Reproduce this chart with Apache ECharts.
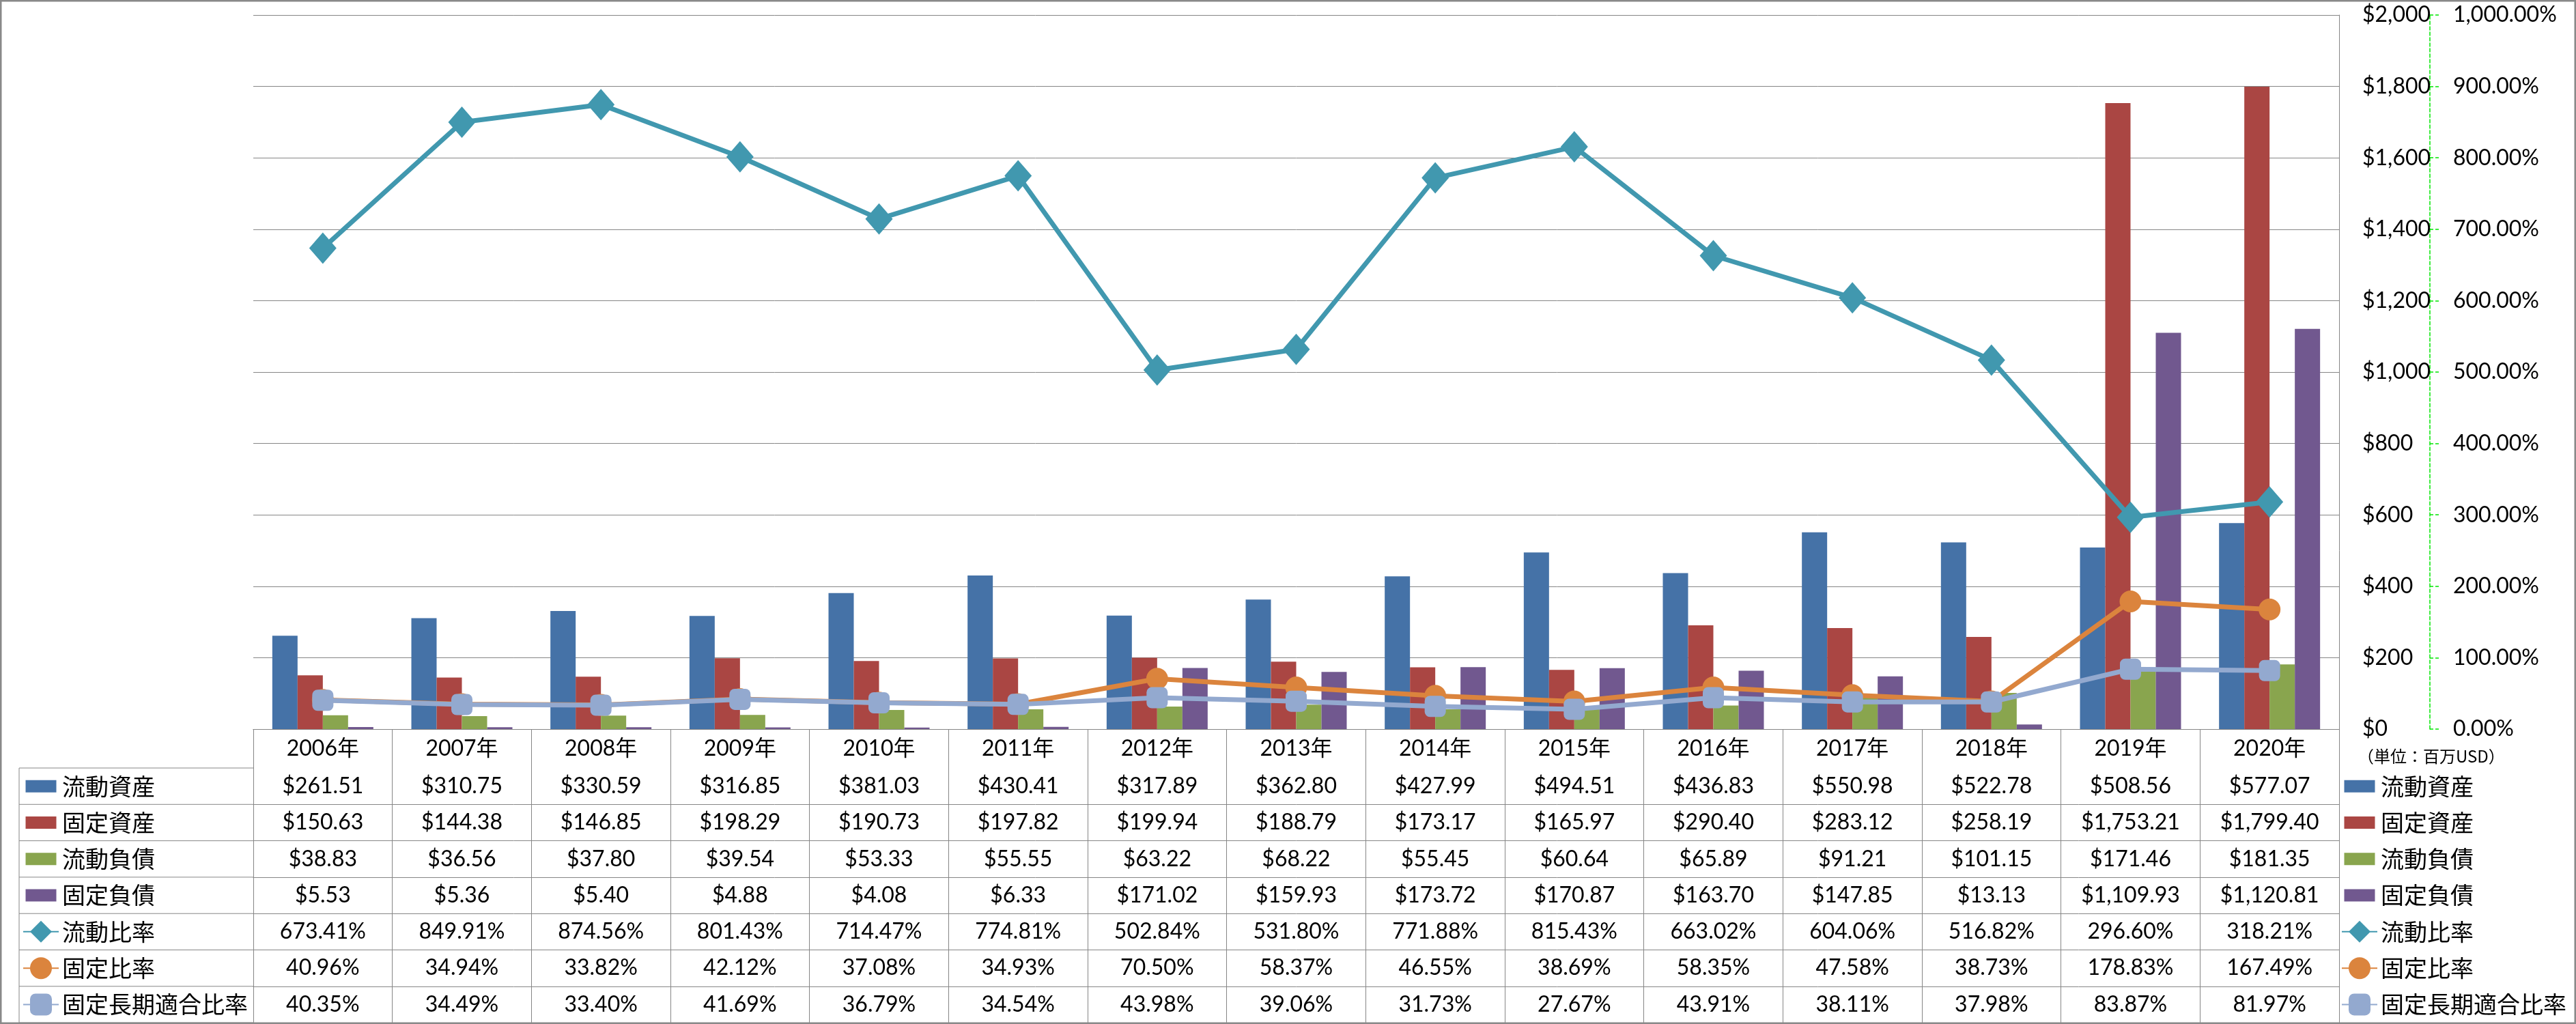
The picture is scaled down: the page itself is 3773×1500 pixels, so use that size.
<!DOCTYPE html>
<html><head><meta charset="utf-8">
<script src="https://cdn.jsdelivr.net/npm/echarts@6/dist/echarts.min.js"></script>
<style>html,body{margin:0;padding:0;background:#fff}#c{width:3773px;height:1500px}</style>
</head><body><div id="c"></div>
<script>
// ---------- DATA ----------
const years = ['2006年','2007年','2008年','2009年','2010年','2011年','2012年','2013年','2014年','2015年','2016年','2017年','2018年','2019年','2020年'];
const currentAssets = [261.51,310.75,330.59,316.85,381.03,430.41,317.89,362.80,427.99,494.51,436.83,550.98,522.78,508.56,577.07];
const fixedAssets = [150.63,144.38,146.85,198.29,190.73,197.82,199.94,188.79,173.17,165.97,290.40,283.12,258.19,1753.21,1799.40];
const currentLiabilities = [38.83,36.56,37.80,39.54,53.33,55.55,63.22,68.22,55.45,60.64,65.89,91.21,101.15,171.46,181.35];
const fixedLiabilities = [5.53,5.36,5.40,4.88,4.08,6.33,171.02,159.93,173.72,170.87,163.70,147.85,13.13,1109.93,1120.81];
const currentRatio = [673.41,849.91,874.56,801.43,714.47,774.81,502.84,531.80,771.88,815.43,663.02,604.06,516.82,296.60,318.21];
const fixedRatio = [40.96,34.94,33.82,42.12,37.08,34.93,70.50,58.37,46.55,38.69,58.35,47.58,38.73,178.83,167.49];
const fixedLongTermRatio = [40.35,34.49,33.40,41.69,36.79,34.54,43.98,39.06,31.73,27.67,43.91,38.11,37.98,83.87,81.97];
const seriesNames = ['流動資産','固定資産','流動負債','固定負債','流動比率','固定比率','固定長期適合比率'];
const moneyAxis = {min: 0, max: 2000, interval: 200};
const percentAxis = {min: 0, max: 1000, interval: 100};
const unitText = '（単位：百万USD）';

// ---------- LAYOUT / STYLE ----------
const W = 3773, H = 1500;
const plotLeft = 371, plotRight = 3426, plotTop = 22, plotBottom = 1068;
const headerH = 57, rowH = 53.3;
const tableLeft = 28;
const tableBottom = plotBottom + headerH + rowH * 7;
const gridColor = '#868686';
const numFont = 'Lato, "Noto Sans CJK JP", sans-serif';
const cjkFont = '"Noto Sans CJK JP", sans-serif';
const colors = ['#4572A7','#AA4643','#89A54E','#71588F','#4198AF','#DB843D','#93A9CF'];
const legendItemH = 40;

const fmtMoney = v => '$' + v.toLocaleString('en-US', {minimumFractionDigits: 2, maximumFractionDigits: 2});
const fmtPct = v => v.toLocaleString('en-US', {minimumFractionDigits: 2, maximumFractionDigits: 2}) + '%';

const rows = [
  {data: currentAssets, fmt: fmtMoney},
  {data: fixedAssets, fmt: fmtMoney},
  {data: currentLiabilities, fmt: fmtMoney},
  {data: fixedLiabilities, fmt: fmtMoney},
  {data: currentRatio, fmt: fmtPct},
  {data: fixedRatio, fmt: fmtPct},
  {data: fixedLongTermRatio, fmt: fmtPct}
];

const xAxes = [{
  type: 'category', data: years, gridIndex: 0, position: 'bottom', boundaryGap: true,
  axisLine: {show: true, lineStyle: {color: gridColor, width: 1}},
  axisTick: {show: true, interval: 0, length: tableBottom - plotBottom, lineStyle: {color: gridColor, width: 1}},
  axisLabel: {interval: 0, margin: headerH / 2, verticalAlign: 'middle', fontSize: 32, fontFamily: numFont, color: '#000'},
  splitLine: {show: false}
}];
rows.forEach((r, k) => {
  xAxes.push({
    type: 'category', data: years, gridIndex: 0, position: 'bottom', boundaryGap: true,
    offset: headerH + rowH * k,
    axisLine: {show: true, lineStyle: {color: gridColor, width: 1}},
    axisTick: {show: false},
    axisLabel: {interval: 0, margin: rowH / 2, verticalAlign: 'middle', fontSize: 32, fontFamily: numFont, color: '#000',
      formatter: (v, i) => r.fmt(r.data[i])},
    splitLine: {show: false}
  });
});

const barIcon = 'path://M0,0M52,40M3.5,11h45v18h-45z';
const legendData = seriesNames.map((n, i) => i < 4 ? {name: n, icon: barIcon} : {name: n});
const legendBase = {
  orient: 'vertical', top: plotBottom + headerH + rowH / 2 - legendItemH / 2,
  itemWidth: 52, itemHeight: legendItemH, itemGap: rowH - legendItemH,
  selectedMode: false, data: legendData, padding: 0,
  textStyle: {fontSize: 34, lineHeight: legendItemH, fontFamily: cjkFont, color: '#000'}
};

function barSeries(i, data) {
  return {name: seriesNames[i], type: 'bar', data: data, xAxisIndex: 0, yAxisIndex: 0,
    barWidth: 37, barGap: '0%', itemStyle: {color: colors[i]}, z: 2};
}
function lineSeries(i, data, symbol, size) {
  return {name: seriesNames[i], type: 'line', data: data, xAxisIndex: 0, yAxisIndex: 1,
    symbol: symbol, symbolSize: size, showSymbol: true,
    lineStyle: {color: colors[i], width: 7}, itemStyle: {color: colors[i]}, z: 3 + i};
}

const graphics = [
  {type: 'rect', shape: {x: 1.25, y: 1.25, width: W - 2.5, height: H - 2.5},
   style: {fill: 'none', stroke: '#898989', lineWidth: 2.5}, silent: true, z: 100},
  {type: 'line', shape: {x1: tableLeft, y1: plotBottom + headerH, x2: tableLeft, y2: tableBottom},
   style: {stroke: gridColor, lineWidth: 1}, silent: true},
  {type: 'text', left: 3453, top: 1096,
   style: {text: unitText, font: '24px ' + cjkFont, fill: '#000'}, silent: true}
];
for (let k = 0; k <= 7; k++) {
  const y = plotBottom + headerH + rowH * k;
  graphics.push({type: 'line', shape: {x1: tableLeft, y1: y, x2: plotLeft, y2: y},
    style: {stroke: gridColor, lineWidth: 1}, silent: true});
}

const option = {
  backgroundColor: '#fff',
  animation: false,
  grid: {left: plotLeft, right: W - plotRight, top: plotTop, bottom: H - plotBottom, containLabel: false, outerBoundsMode: 'none'},
  xAxis: xAxes,
  yAxis: [{
    type: 'value', position: 'right', min: moneyAxis.min, max: moneyAxis.max, interval: moneyAxis.interval,
    axisLine: {show: true, lineStyle: {color: gridColor, width: 1}},
    axisTick: {show: false},
    axisLabel: {margin: 34, align: 'left', fontSize: 32, fontFamily: numFont, color: '#000',
      formatter: v => '$' + v.toLocaleString('en-US')},
    splitLine: {show: true, lineStyle: {color: gridColor, width: 1}}
  }, {
    type: 'value', position: 'right', offset: 133, min: percentAxis.min, max: percentAxis.max, interval: percentAxis.interval,
    axisLine: {show: true, lineStyle: {color: '#00e600', width: 1.5, type: [5, 3]}},
    axisTick: {show: true, length: 13, lineStyle: {color: '#00e600', width: 1.5, type: [5, 3]}},
    axisLabel: {margin: 34, align: 'left', fontSize: 32, fontFamily: numFont, color: '#000',
      formatter: v => fmtPct(v)},
    splitLine: {show: false}
  }],
  legend: [
    Object.assign({left: 33}, legendBase),
    Object.assign({left: 3429}, legendBase)
  ],
  series: [
    barSeries(0, currentAssets),
    barSeries(1, fixedAssets),
    barSeries(2, currentLiabilities),
    barSeries(3, fixedLiabilities),
    lineSeries(4, currentRatio, 'diamond', [40, 46]),
    lineSeries(5, fixedRatio, 'circle', 32),
    lineSeries(6, fixedLongTermRatio, 'roundRect', 31)
  ],
  graphic: graphics
};
const chart = echarts.init(document.getElementById('c'), null, {renderer: 'canvas'});
chart.setOption(option);
</script>
</body></html>
